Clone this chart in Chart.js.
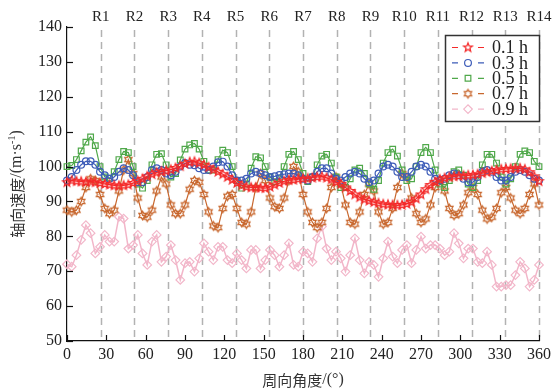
<!DOCTYPE html>
<html><head><meta charset="utf-8">
<script src="https://cdn.jsdelivr.net/npm/chart.js@4/dist/chart.umd.min.js"></script>
<style>html,body{margin:0;padding:0;background:#fff;}#wrap{width:556px;height:391px;}</style>
</head><body><div id="wrap"><canvas id="c" width="556" height="391"></canvas></div>
<script>
const angles = [0,3.6,7.2,10.8,14.4,18,21.6,25.2,28.8,32.4,36,39.6,43.2,46.8,50.4,54,57.6,61.2,64.8,68.4,72,75.6,79.2,82.8,86.4,90,93.6,97.2,100.8,104.4,108,111.6,115.2,118.8,122.4,126,129.6,133.2,136.8,140.4,144,147.6,151.2,154.8,158.4,162,165.6,169.2,172.8,176.4,180,183.6,187.2,190.8,194.4,198,201.6,205.2,208.8,212.4,216,219.6,223.2,226.8,230.4,234,237.6,241.2,244.8,248.4,252,255.6,259.2,262.8,266.4,270,273.6,277.2,280.8,284.4,288,291.6,295.2,298.8,302.4,306,309.6,313.2,316.8,320.4,324,327.6,331.2,334.8,338.4,342,345.6,349.2,352.8,356.4,360];
const seriesLabels = ['0.1 h','0.3 h','0.5 h','0.7 h','0.9 h'];
const v01 = [95.5,96,95.8,95.7,95.6,95.7,95.5,95.3,95,94.8,
 94.6,94.5,94.6,94.8,95.3,95.8,96.5,97.2,97.8,98.3,
 98.6,98.8,99.1,99.6,100.1,100.8,101.3,101.4,101,100.5,
 99.8,99.1,98.5,97.8,97,96.2,95.3,94.6,94.2,94,
 94,93.9,93.8,94.2,94.8,95.3,95.8,96.1,96.2,96.4,
 96.5,96.6,96.8,97,97.1,96.8,96.3,95.6,95,94,
 93,92,91.2,90.6,90.2,89.8,89.5,89.2,89.1,89,
 88.9,89,89.3,89.8,90.8,92,93.5,94.7,95.6,96.3,
 96.7,97,97.2,97.3,97.4,97.5,97.6,97.8,98.1,98.4,
 98.7,99,99.2,99.3,99.4,99.5,99.5,99.2,98.4,97.2,
 95.8];
const v03 = [96,97,99,100.5,101.5,101.5,100.5,98.5,97.5,96.5,
 97,98.5,99.5,99,97.5,95.5,95.5,97,99,99.5,
 99,98,97.5,98.5,100,101,100.5,100.4,99.5,99,
 99,100,101.2,101.4,100,97.5,96,96,96.5,98,
 98.5,98,97.5,97,97.2,97.6,97.8,98,98,97.5,
 96.5,96,97,98.5,99.5,99.5,98,96.5,96,97,
 98,98.5,98,96.5,95.5,96,98,100,100.5,100,
 98.5,97,97,98.5,100,100.5,100,98.5,96.5,96,
 96.5,97.5,98,97.5,96.5,95.5,95.5,97,98.5,99,
 98.5,97,96,96,97,98.5,99,98.5,97.5,96.5,
 96];
const v05 = [100,100.3,102,104.5,107,108.5,106,100,97,96.7,
 98.5,102,104.3,104,100,95,93.8,96,100.5,103.5,
 103.7,100.5,97,98,101.9,105,106.2,106.6,105,101.5,
 99,99,102,104.7,104,100,96,93.8,95,99.5,
 102.8,102.5,100,97,95.7,96.5,100,103.5,104.3,102,
 98,95.7,97,100.5,103,103.5,101,97,94,94,
 96.5,99,99.5,98,95,93.5,96,101,104,105,
 103,99,96,96.5,100,104,105.5,104,99,95,
 94,96,98.5,99,97.5,95,94,96,100.5,103.5,
 103.5,101,97,95,96.5,100,103.5,104.5,104,101.5,
 100];
const v07 = [87.5,87,87.5,90,94,96.5,96,92,88,86.5,
 87.5,93,99,102,98,91,86,85.5,87.5,93,
 97,95,89,86.5,86.5,89,93.5,96,95.5,92,
 87,83,82.5,88,91.5,92,88,84,83.5,87,
 94,98,96,91,88.5,88,91,96,100,98.5,
 92,87,84,82.5,84,88,94,97,95,89,
 84,83.5,87,92,95,93,87,83.5,84,88,
 94,98,97,91,86.5,84,85,89,94,96,
 93,88,86,86.5,89,92.5,94,92,87.5,85,
 85.5,88,92.5,94,91,87.5,86.5,88,92,95,
 89];
const v09 = [72,71.3,74.6,79,83.2,80.9,75.1,77,80.4,78.5,
 78.5,85.6,85.1,76.5,77.5,80.4,75.1,71.8,78.5,80.4,
 72.7,74.2,77.5,73.2,67.5,72.3,72.7,69.9,73.7,78,
 75.6,73.2,77,77,73.2,72.3,75.1,73.2,70.8,76.1,
 76.1,70.8,73.2,76.1,74.6,71.3,74.6,78,71.8,71.3,
 75.6,75.1,72.7,79.4,82.8,76.5,73.2,75.6,73.7,69.9,
 74.6,79.4,73.2,69.4,72.7,71.8,68.4,73.7,78.5,74.2,
 72.3,76.1,77.5,72.3,76.1,79.9,76.5,77.5,77.5,76.5,
 74.6,75.6,80.9,78,73.7,76.5,76.5,72.7,72.3,75.6,
 71.8,65.6,65.6,66,66,68.9,72.7,70.8,65.6,67.5,
 71.8];
const passageBounds = [25.714,51.429,77.143,102.857,128.571,154.286,180,205.714,231.429,257.143,282.857,308.571,334.286,360];
const passageLabels = ['R1','R2','R3','R4','R5','R6','R7','R8','R9','R10','R11','R12','R13','R14'];
const xTickValues = [0,30,60,90,120,150,180,210,240,270,300,330,360];
const yTickValues = [50,60,70,80,90,100,110,120,130,140];
const xTitleRuns = [['周向角度', 'cjk'], ['/(°)', 'serif']];
const yTitleRuns = [['轴向速度', 'cjk'], ['/(m·s', 'serif'], ['-1', 'sup'], [')', 'serif']];

const SERIF = '"Liberation Serif","Times New Roman",serif';
const CJK = '"Noto Sans CJK SC","Noto Sans",sans-serif';
const runFonts = { cjk: '15px ' + CJK, serif: '16px ' + SERIF, sup: '10px ' + SERIF };

function makeStar(n, rOut, rIn, color, lw) {
  const s = Math.ceil(rOut * 2 + lw * 2 + 2);
  const c = document.createElement('canvas'); c.width = s; c.height = s;
  const g = c.getContext('2d'); g.translate(s / 2, s / 2);
  g.beginPath();
  for (let i = 0; i < 2 * n; i++) {
    const r = i % 2 ? rIn : rOut;
    const a = -Math.PI / 2 + i * Math.PI / n;
    g.lineTo(r * Math.cos(a), r * Math.sin(a));
  }
  g.closePath(); g.strokeStyle = color; g.lineWidth = lw; g.stroke();
  return c;
}
const colors = ['#f42a2a', '#3d5cb8', '#4fa84a', '#c8672e', '#f2b6c9'];
const styles = [
  makeStar(5, 4.6, 2.0, colors[0], 1.3),
  'circle', 'rect',
  makeStar(6, 4.2, 2.5, colors[3], 1.3),
  'rectRot'
];
const radii = [4.5, 3.4, 4.0, 4.2, 4.3];
const valueSets = [v01, v03, v05, v07, v09];

const datasets = valueSets.map((vals, k) => ({
  label: seriesLabels[k],
  data: angles.map((a, i) => ({ x: a, y: vals[i] })),
  borderColor: colors[k],
  borderWidth: k === 4 ? 1.5 : 1.2,
  pointStyle: styles[k],
  pointRadius: radii[k],
  pointBorderColor: colors[k],
  pointBackgroundColor: 'rgba(255,255,255,0)',
  pointBorderWidth: 1.2,
  tension: 0,
  clip: false
}));

function drawRuns(ctx, runs, cx, cy) {
  let total = 0;
  const widths = runs.map(([t, f]) => { ctx.font = runFonts[f]; const w = ctx.measureText(t).width; total += w; return w; });
  let x = cx - total / 2;
  ctx.textAlign = 'left'; ctx.textBaseline = 'middle';
  runs.forEach(([t, f], i) => {
    ctx.font = runFonts[f];
    ctx.fillText(t, x, f === 'sup' ? cy - 5 : cy);
    x += widths[i];
  });
}

const decor = {
  id: 'decor',
  beforeDatasetsDraw(chart) {
    const { ctx, chartArea: a, scales: { x } } = chart;
    ctx.save();
    ctx.strokeStyle = '#b2b2b2'; ctx.lineWidth = 1.5; ctx.setLineDash([7, 5]);
    passageBounds.forEach(b => {
      const px = Math.round(x.getPixelForValue(b)) + 0.5;
      ctx.beginPath(); ctx.moveTo(px, a.top + 3); ctx.lineTo(px, a.bottom); ctx.stroke();
    });
    ctx.restore();
  },
  afterDraw(chart) {
    const { ctx, chartArea: a, scales: { x, y } } = chart;
    ctx.save();
    // inward ticks
    ctx.strokeStyle = '#111'; ctx.lineWidth = 1.2;
    yTickValues.forEach(v => {
      const py = Math.round(y.getPixelForValue(v)) + 0.5;
      ctx.beginPath(); ctx.moveTo(a.left, py); ctx.lineTo(a.left + 6, py); ctx.stroke();
    });
    xTickValues.forEach(v => {
      const px = Math.round(x.getPixelForValue(v)) + 0.5;
      ctx.beginPath(); ctx.moveTo(px, a.bottom); ctx.lineTo(px, a.bottom - 6); ctx.stroke();
    });
    // axis titles
    ctx.fillStyle = '#333';
    drawRuns(ctx, xTitleRuns, (a.left + a.right) / 2, 380);
    ctx.save();
    ctx.translate(17, (a.top + a.bottom) / 2);
    ctx.rotate(-Math.PI / 2);
    drawRuns(ctx, yTitleRuns, 0, 0);
    ctx.restore();
    // passage labels
    ctx.fillStyle = '#222'; ctx.font = '15px ' + SERIF;
    ctx.textAlign = 'center'; ctx.textBaseline = 'middle';
    passageBounds.forEach((b, i) => {
      ctx.fillText(passageLabels[i], x.getPixelForValue(b), 17);
    });
    // legend
    const bx = 445, by = 35, bw = 94, bh = 86;
    ctx.fillStyle = '#fff'; ctx.fillRect(bx, by, bw, bh);
    ctx.strokeStyle = '#333'; ctx.lineWidth = 1.5; ctx.strokeRect(bx + 0.5, by + 0.5, bw, bh);
    chart.data.datasets.forEach((ds, i) => {
      const ry = by + 12.5 + i * 15.4;
      ctx.save();
      ctx.strokeStyle = ds.borderColor; ctx.lineWidth = 1.2; ctx.setLineDash([6, 20]);
      ctx.beginPath(); ctx.moveTo(452, ry); ctx.lineTo(484, ry); ctx.stroke();
      ctx.restore();
      const st = ds.pointStyle;
      if (typeof st !== 'string') {
        ctx.drawImage(st, 468 - st.width / 2, ry - st.height / 2);
      } else {
        ctx.save();
        ctx.fillStyle = '#fff'; ctx.strokeStyle = ds.borderColor; ctx.lineWidth = 1.2;
        Chart.helpers.drawPoint(ctx, { pointStyle: st, radius: ds.pointRadius, borderWidth: 1.2, rotation: 0 }, 468, ry);
        ctx.restore();
      }
      ctx.fillStyle = '#222'; ctx.font = '18px ' + SERIF;
      ctx.textAlign = 'left'; ctx.textBaseline = 'middle';
      ctx.fillText(ds.label, 492, ry + 1);
    });
    ctx.restore();
  }
};

new Chart(document.getElementById('c'), {
  type: 'line',
  data: { datasets },
  options: {
    responsive: false, animation: false, devicePixelRatio: 1,
    layout: { padding: { left: 0, top: 27, right: 17, bottom: 0 } },
    plugins: { legend: { display: false }, tooltip: { enabled: false } },
    scales: {
      x: {
        type: 'linear', min: 0, max: 360,
        afterBuildTicks: s => { s.ticks = xTickValues.map(v => ({ value: v })); },
        afterFit: s => { s.height = 50; },
        ticks: { font: { family: SERIF, size: 16 }, color: '#222', padding: 4, maxRotation: 0, autoSkip: false },
        grid: { display: false, drawTicks: false },
        border: { display: true, color: '#111', width: 1.2 },
        title: { display: false }
      },
      y: {
        min: 50, max: 140,
        afterBuildTicks: s => { s.ticks = yTickValues.map(v => ({ value: v })); },
        afterFit: s => { s.width = 67; },
        ticks: { font: { family: SERIF, size: 16 }, color: '#222', padding: 5 },
        grid: { display: false, drawTicks: false },
        border: { display: true, color: '#111', width: 1.2 },
        title: { display: false }
      }
    }
  },
  plugins: [decor]
});
</script></body></html>
